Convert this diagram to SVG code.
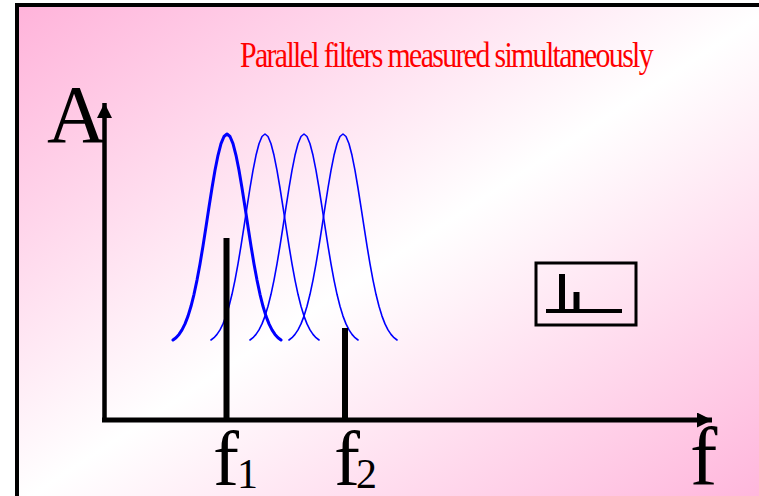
<svg xmlns="http://www.w3.org/2000/svg" xmlns:xlink="http://www.w3.org/1999/xlink" width="759" height="496" viewBox="0 0 759 496">
<style>
.serif{font-family:"Liberation Serif","Times New Roman",serif;fill:#000}
.title{font-family:"Liberation Serif","Times New Roman",serif;fill:#ff0000;font-size:36px;letter-spacing:-2px}
.gauss{fill:none;stroke:#0000ff;stroke-linejoin:round;stroke-linecap:round}
.bar{stroke:#000;stroke-width:6}
.axis{stroke:#000;stroke-width:4.5;fill:none}
</style>
<defs>
<linearGradient id="bg" x1="0" y1="0" x2="1" y2="1">
<stop offset="0" stop-color="#ffb3da"/>
<stop offset="0.5" stop-color="#ffffff"/>
<stop offset="1" stop-color="#ffb3da"/>
</linearGradient>
<marker id="arr" markerUnits="userSpaceOnUse" markerWidth="16" markerHeight="16" refX="15" refY="7.5" orient="auto" viewBox="0 0 16 16">
<path d="M0,0 L15,7.5 L0,15 Z" fill="#000"/>
</marker>
<path id="g" d="M-54,340 L-51,337.7 L-48,334.4 L-45,329.9 L-42,323.9 L-39,316.1 L-36,306.3 L-33,294.3 L-30,280.1 L-27,263.9 L-24,245.9 L-21,226.7 L-18,207.1 L-15,188 L-12,170.3 L-9,155.3 L-6,143.7 L-3,136.5 L0,134 L3,136.5 L6,143.7 L9,155.3 L12,170.3 L15,188 L18,207.1 L21,226.7 L24,245.9 L27,263.9 L30,280.1 L33,294.3 L36,306.3 L39,316.1 L42,323.9 L45,329.9 L48,334.4 L51,337.7 L54,340"/>
</defs>
<rect id="background" x="17" y="5" width="760" height="500" fill="url(#bg)" stroke="#000" stroke-width="4"/>
<text id="title" class="title" x="240" y="67" textLength="412" lengthAdjust="spacingAndGlyphs">Parallel filters measured simultaneously</text>
<g id="filters">
<use xlink:href="#g" x="227" class="gauss" style="stroke-width:3"/>
<use xlink:href="#g" x="265" class="gauss" style="stroke-width:1.6"/>
<use xlink:href="#g" x="304" class="gauss" style="stroke-width:1.6"/>
<use xlink:href="#g" x="343" class="gauss" style="stroke-width:1.6"/>
</g>
<g id="signals">
<line class="bar" x1="226.5" y1="238" x2="226.5" y2="420"/>
<line class="bar" x1="345" y1="328" x2="345" y2="420"/>
</g>
<g id="connectors">
<path class="axis" d="M104.5,420 L104.5,103" marker-end="url(#arr)"/>
<path class="axis" style="stroke-width:5" d="M102,420 L712,420" marker-end="url(#arr)"/>
</g>
<g id="labels">
<text class="serif" x="47" y="142" font-size="82">A</text>
<text class="serif" x="690" y="485" font-size="82">f</text>
<text class="serif" x="213" y="485" font-size="78">f<tspan font-size="42" dx="-2" dy="3">1</tspan></text>
<text class="serif" x="334" y="485" font-size="78">f<tspan font-size="42" dx="-4" dy="3">2</tspan></text>
</g>
<g id="inset">
<rect x="536" y="263" width="100" height="62" fill="none" stroke="#000" stroke-width="3"/>
<line x1="546" y1="311" x2="622" y2="311" stroke="#000" stroke-width="4"/>
<line x1="562" y1="274" x2="562" y2="311" stroke="#000" stroke-width="6"/>
<line x1="576.5" y1="292" x2="576.5" y2="311" stroke="#000" stroke-width="6"/>
</g>
</svg>
